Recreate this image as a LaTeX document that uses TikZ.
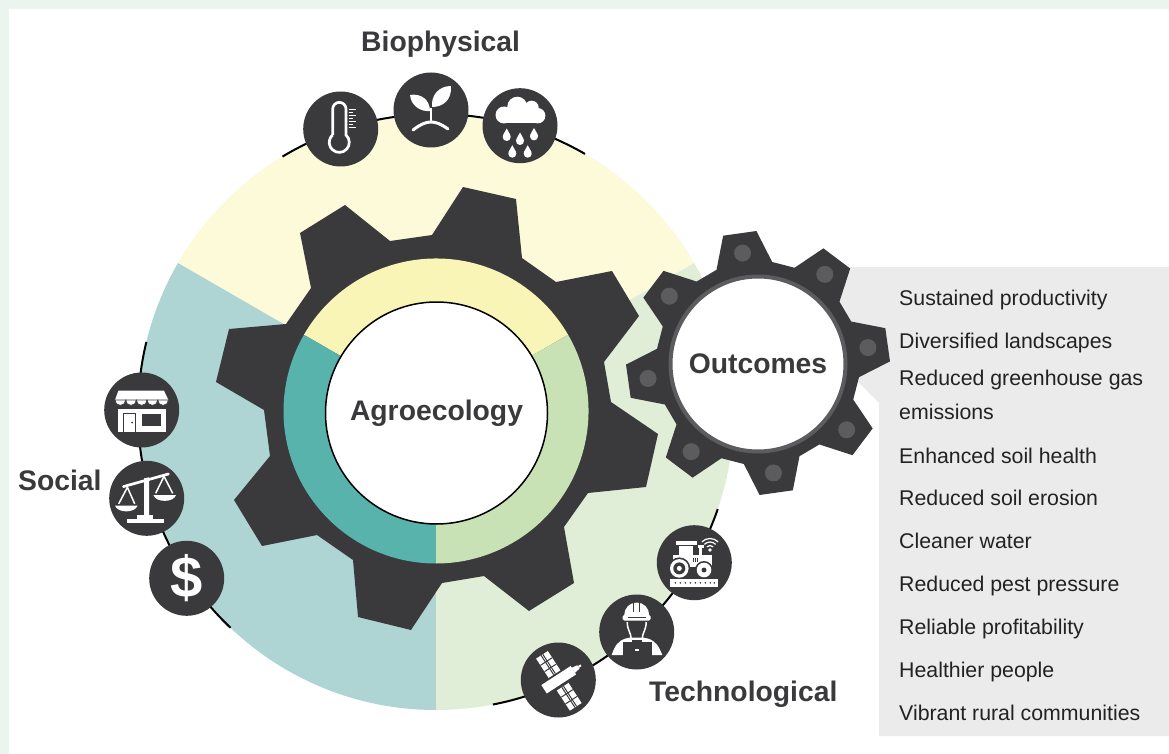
\documentclass[tikz,border=0pt]{standalone}
\usepackage{fontspec}
\setmainfont{Liberation Sans}
\definecolor{gearc}{HTML}{3A3A3C}
\definecolor{holec}{HTML}{5C5C5E}
\definecolor{yelout}{HTML}{FDFADA}
\definecolor{yelring}{HTML}{F9F5B6}
\definecolor{tealout}{HTML}{AED5D3}
\definecolor{tealring}{HTML}{58B3AC}
\definecolor{greenout}{HTML}{E0EED8}
\definecolor{greenring}{HTML}{C8E1B5}
\definecolor{panelc}{HTML}{EBEBEB}
\definecolor{mintc}{HTML}{EAF5F0}
\definecolor{listc}{HTML}{222224}
\newcommand{\raindrop}[2]{\fill[white,shift={(#1,#2)}] (0,-6.5) .. controls (1,-3.5) and (4,-1) .. (4,2) arc[start angle=0,end angle=180,radius=4pt] .. controls (-4,-1) and (-1,-3.5) .. (0,-6.5) -- cycle;}
\tikzset{
  iconc/.style={circle,fill=gearc,minimum size=75pt,inner sep=0pt},
  biglabel/.style={font=\bfseries\fontsize{28.3}{30}\selectfont,text=gearc,inner sep=0pt},
  listitem/.style={font=\fontsize{21.3}{24}\selectfont,text=listc,inner sep=0pt,anchor=base west},
  seclinec/.style={draw=black,line width=2pt},
  wl/.style={draw=white,line cap=round}
}
\begin{document}
\begin{tikzpicture}[x=1pt,y=1pt,yscale=-1]
\useasboundingbox (0,0) rectangle (1169,754);
% background
\fill[white] (0,0) rectangle (1169,754);
\fill[mintc] (0,0) rectangle (1169,9);
\fill[mintc] (0,0) rectangle (9,754);
% grey panel
\fill[panelc] (835,267) -- (1169,267) -- (1169,736) -- (879,736) -- (879,403) -- (835,359) -- cycle;
% outer sectors
\fill[yelout] (436,412) -- ++(210:298) arc[start angle=210,end angle=330,radius=298pt] -- cycle;
\fill[tealout] (436,412) -- ++(90:298) arc[start angle=90,end angle=210,radius=298pt] -- cycle;
\fill[greenout] (436,412) -- ++(330:298) arc[start angle=330,end angle=450,radius=298pt] -- cycle;
% black arcs
\draw[seclinec] (436,412) ++(239:298) arc[start angle=239,end angle=300,radius=298pt];
\draw[seclinec] (436,412) ++(133.6:298) arc[start angle=133.6,end angle=193.6,radius=298pt];
\draw[seclinec] (436,412) ++(19:298) arc[start angle=19,end angle=79,radius=298pt];
% main gear
\fill[gearc] (390,241) -- (432,235) -- (463,187) -- (516,199) -- (522,258) -- (556,282) -- (612,271) -- (639,316) -- (604,362) -- (611,402) -- (658,434) -- (646,487) -- (588,493) -- (564,527) -- (574,583) -- (529,611) -- (484,576) -- (442,583) -- (411,630) -- (358,617) -- (353,560) -- (317,535) -- (262,546) -- (234,500) -- (270,456) -- (264,410) -- (216,382) -- (229,329) -- (286,324) -- (311,288) -- (300,233) -- (345,205) -- cycle;
% ring
\fill[yelring] (436,411) -- ++(210:152.5) arc[start angle=210,end angle=330,radius=152.5pt] -- cycle;
\fill[tealring] (436,411) -- ++(90:152.5) arc[start angle=90,end angle=210,radius=152.5pt] -- cycle;
\fill[greenring] (436,411) -- ++(330:152.5) arc[start angle=330,end angle=450,radius=152.5pt] -- cycle;
\node[circle,fill=white,draw=black,line width=1.5pt,minimum size=222pt,inner sep=0pt,font=\bfseries\fontsize{28.3}{30}\selectfont,text=gearc] (hub) at (436.5,413) {\raisebox{-2pt}{Agroecology}};
% outcomes gear
\begin{scope}[shift={(758,363)}]
\fill[gearc] (-114:102) \foreach \a in {98,53,8,-37,-82,-127,-172,143} { -- ({-(\a+16)}:102) -- ({-(\a+7.3)}:132) -- ({-(\a-7.3)}:132) -- ({-(\a-16)}:102) } -- cycle;
\foreach \a in {98,53,8,-37,-82,-127,-172,143} { \fill[holec] ({-\a}:111) circle[radius=8.5pt]; }
\end{scope}
\node[circle,fill=white,draw=holec,line width=4pt,minimum size=175pt,inner sep=0pt,font=\bfseries\fontsize{28.3}{30}\selectfont,text=gearc] (outc) at (758,364) {\raisebox{1.5pt}{Outcomes}};
% list
\node[listitem] (l1) at (899,305.5) {Sustained productivity};
\node[listitem] (l2) at (899,348.5) {Diversified landscapes};
\node[listitem] (l3) at (899,385) {Reduced greenhouse gas};
\node[listitem] (l3b) at (899,419.5) {emissions};
\node[listitem] (l4) at (899,463) {Enhanced soil health};
\node[listitem] (l5) at (899,505.5) {Reduced soil erosion};
\node[listitem] (l6) at (899,548.5) {Cleaner water};
\node[listitem] (l7) at (899,591.5) {Reduced pest pressure};
\node[listitem] (l8) at (899,634.5) {Reliable profitability};
\node[listitem] (l9) at (899,677) {Healthier people};
\node[listitem] (l10) at (899,720) {Vibrant rural communities};
% labels
\node[biglabel,anchor=base west] (bio) at (361,52) {Biophysical};
\node[biglabel,anchor=base west] (soc) at (18,490.5) {Social};
\node[biglabel,anchor=base west] (tec) at (649,701) {Technological};
% icon discs
\node[iconc] (thermo) at (340.7,129) {};
\node[iconc] (sprout) at (431,110) {};
\node[iconc] (rain) at (520,125.7) {};
\node[iconc] (shop) at (141.7,410) {};
\node[iconc] (scale) at (146.7,498.3) {};
\node[iconc,text=white,font=\bfseries\fontsize{58}{58}\selectfont] (dollar) at (186.7,578.3) {\$};
\node[iconc] (tractor) at (694.3,562.7) {};
\node[iconc] (worker) at (636.7,632) {};
\node[iconc] (satel) at (558.3,680) {};
% thermometer
\begin{scope}[shift={(340.7,129)}]
\draw[white,line width=2.7pt] (-8,6) -- (-8,-20) arc[start angle=180,end angle=360,radius=6.65pt] -- (5.3,6) arc[start angle=-47.7,end angle=227.7,radius=10pt];
\foreach \y/\l in {-19.5/15.5,-16.5/12,-13.5/15.5,-10.5/12,-7.5/15.5,-4.5/12,-1.5/15.5}{\draw[white,line width=1.1pt] (8,\y) -- (\l,\y);}
\end{scope}
% sprout
\begin{scope}[shift={(431,110)}]
\fill[white] (-21,-15) .. controls (-10,-17) and (-1,-10) .. (-1,1) .. controls (-10,2) and (-20,-4) .. (-21,-15) -- cycle;
\fill[white] (20,-24) .. controls (8,-24) and (0,-15) .. (1,-3) .. controls (12,-3) and (21,-10) .. (20,-24) -- cycle;
\draw[white,line width=2.8pt] (0,-2) -- (0,12);
\draw[wl,line width=3pt] (-18,20) .. controls (-10,14) and (-5,12) .. (0,12) .. controls (5,12) and (10,14) .. (17,19);
\end{scope}
% rain
\begin{scope}[shift={(520,125.7)}]
\fill[white] (-16,-10.7) circle[radius=8.5pt];
\fill[white] (-2.7,-19) circle[radius=10pt];
\fill[white] (11.7,-18) circle[radius=7pt];
\fill[white] (17.7,-10) circle[radius=7.7pt];
\fill[white] (-16,-15) rectangle (18,-2.3);
\raindrop{-13.3}{9.3}\raindrop{14}{8.7}\raindrop{0}{13.3}\raindrop{-7.7}{26}\raindrop{7.7}{26}
\end{scope}
% shop
\begin{scope}[shift={(141.7,410)}]
\fill[white] (-23.3,-19.3) -- (22.3,-19.3) -- (26.7,-10) -- (-26.7,-10) -- cycle;
\foreach \x in {-21.4,-10.7,0,10.7,21.4}{\fill[white,draw=gearc,line width=0.6pt] (\x-5.35,-10) arc[start angle=180,end angle=0,radius=5.35pt] -- cycle;}
\fill[white] (-24,-1.5) rectangle (24,22);
\draw[gearc,line width=1pt] (-18,22) -- (-18,3.5) -- (-6.5,3.5) -- (-6.5,22);
\fill[gearc] (-9.5,12.5) circle[radius=1pt];
\fill[gearc] (0,4) rectangle (19.5,16);
\end{scope}
% scales
\begin{scope}[shift={(146.7,498.3)}]
\draw[wl,line width=2.7pt] (-23.3,-11.7) -- (21.7,-24.3);
\fill[white] (-2.5,-20) -- (2.5,-21) -- (2.5,17) -- (-2.5,17) -- cycle;
\fill[white] (-10,16.7) rectangle (6.7,21);
\fill[white] (-20,21) rectangle (17.3,24.3);
\draw[white,line width=1.5pt] (-28,5.5) -- (-19.3,-11) -- (-12,5.5) (9,-5) -- (17.3,-22) -- (26,-5);
\fill[white] (-31.7,7.3) .. controls (-29,15) and (-12,15) .. (-9,7.3) -- cycle;
\fill[white] (6.7,-3.3) .. controls (9,4.5) and (27,4.5) .. (29.3,-3.3) -- cycle;
\end{scope}
% tractor
\begin{scope}[shift={(694.3,562.7)}]
\fill[white] (-18,-21.5) rectangle (2.5,-17.5);
\fill[white] (-15,-16.5) rectangle (-1,-7);
\fill[white] (-21,-7.7) -- (17.3,-7.7) -- (17.3,4) -- (-21,4) -- cycle;
\fill[white] (5,-17) rectangle (8,-8);
\fill[white] (3.5,-17.5) rectangle (9.5,-15);
\foreach \x in {-1,1,3}{\draw[gearc,line width=0.8pt] (\x,-4.5) -- (\x,-1);}
\fill[gearc] (-15,5.7) circle[radius=11pt];
\fill[white] (-15,5.7) circle[radius=9.3pt];
\fill[gearc] (-15,5.7) circle[radius=6pt];
\fill[white] (-15,5.7) circle[radius=2.5pt];
\fill[gearc] (9.7,7.3) circle[radius=9pt];
\fill[white] (9.7,7.3) circle[radius=7.3pt];
\fill[gearc] (9.7,7.3) circle[radius=2.5pt];
\fill[white] (-24.3,16.3) rectangle (24,24);
\foreach \x in {-19,-14,-9,-4,1,6,11,16,20}{\fill[gearc] (\x,20.2) circle[radius=0.9pt];}
\fill[white] (15.7,-12.7) circle[radius=1.8pt];
\foreach \r in {4.5,8,11.5}{\draw[white,line width=1.2pt] (15.7,-12.7) ++(225:\r) arc[start angle=225,end angle=315,radius=\r pt];}
\end{scope}
% worker
\begin{scope}[shift={(636.7,632)}]
\fill[white] (-12.5,-17) arc[start angle=180,end angle=360,radius=12.5pt] -- cycle;
\draw[gearc,line width=1pt] (-3,-29) -- (-3,-20) (3,-29) -- (3,-20);
\fill[white,rounded corners=1.5pt] (-14,-17) rectangle (14,-11.5);
\draw[gearc,line width=0.9pt] (-9,-14.5) -- (9,-14.5);
\draw[white,line width=1.5pt] (-9.5,-10) .. controls (-9.5,-2) and (-5.5,1) .. (-5.5,7) (9.5,-10) .. controls (9.5,-2) and (5.5,1) .. (5.5,7);
\fill[white] (-6,5.5) -- (6,5.5) -- (11,6.5) .. controls (19,9) and (22,14) .. (25.6,23) -- (-25,23) .. controls (-22,14) and (-19,9) .. (-11,6.5) -- cycle;
\fill[gearc] (-14,9.7) rectangle (15,23.5);
\fill[white] (-1.8,16.5) rectangle (1.8,19);
\fill[gearc] (-5,8) rectangle (5,9.7);
\end{scope}
% satellite
\begin{scope}[shift={(558.3,680)}]
\begin{scope}[rotate=-33]
\foreach \yA/\yB in {-30/-7,8/32}{
  \fill[white] (-7,\yA) rectangle (7,\yB);
  \draw[gearc,line width=1pt] (-1,\yA) -- (-1,\yB) (1,\yA) -- (1,\yB);
}
\draw[gearc,line width=1pt] (-7,-22) -- (7,-22) (-7,-14.5) -- (7,-14.5) (-7,16) -- (7,16) (-7,24) -- (7,24);
\fill[gearc] (-18,-6) rectangle (19,6);
\fill[white] (-17,-5) rectangle (18,5);
\fill[white] (18,-3) -- (24,-2) -- (24,2) -- (18,3) -- cycle;
\fill[white] (24,-1) rectangle (27,1);
\end{scope}
\end{scope}
\end{tikzpicture}
\end{document}
